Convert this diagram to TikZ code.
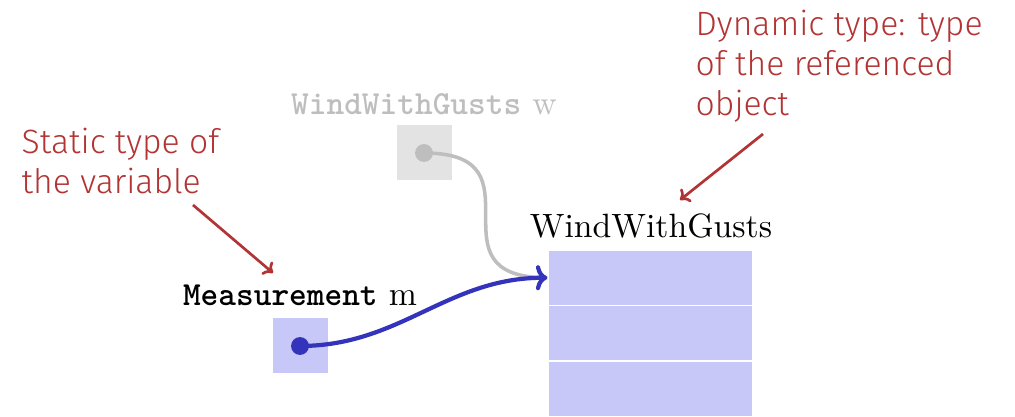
\documentclass[tikz,border=0pt]{standalone}
\usepackage{fontspec}
\newfontfamily\annotfont{Fira Sans Light}
\usetikzlibrary{arrows.meta}
\definecolor{noteRed}{RGB}{178,52,52}
\definecolor{refBlue}{RGB}{51,51,187}
\definecolor{cellFill}{RGB}{200,200,248}
\definecolor{ghostGrey}{RGB}{190,190,190}
\definecolor{ghostFill}{RGB}{227,227,227}
\begin{document}
\begin{tikzpicture}[x=0.2967pt, y=-0.2967pt,
  varbox/.style={rectangle, inner sep=0pt, minimum size=16.32pt},
  cellbox/.style={rectangle, inner sep=0pt, minimum width=60.82pt, minimum height=16.47pt,
    fill=cellFill, draw=white, line width=0.4pt},
  refdot/.style={circle, inner sep=0pt, minimum size=5.3pt},
  vlabel/.style={anchor=base, inner sep=0pt, font=\fontsize{10}{12}\selectfont},
  note/.style={inner sep=0pt, align=left, text=noteRed,
    font=\annotfont\fontsize{10}{11.87}\selectfont},
  notearrow/.style={draw=noteRed, line width=0.8pt, -{To[length=2.6pt,width=5pt]}},
]
\useasboundingbox (0,0) rectangle (1015,417);

% the object on the heap: three fields
\node[cellbox] (cellA) at (650.5,277.75) {};
\node[cellbox] (cellB) at (650.5,333.25) {};
\node[cellbox] (cellC) at (650.5,388.75) {};
\node[vlabel] (objtype) at (651,238) {WindWithGusts};

% variable w (faded)
\node[varbox, fill=ghostFill] (wbox) at (424,153) {};
\node[refdot, fill=ghostGrey] (wdot) at (wbox.center) {};
\node[vlabel, text=ghostGrey] (wlabel) at (424,115) {\texttt{\bfseries WindWithGusts} w};

% variable m
\node[varbox, fill=cellFill] (mbox) at (300,346) {};
\node[refdot, fill=refBlue] (mdot) at (mbox.center) {};
\node[vlabel] (mlabel) at (300,306) {\texttt{\bfseries Measurement} m};

% references
\draw[ghostGrey, line width=1.05pt] (wdot.center) to[out=0, in=180, looseness=1.8] (cellA.west);
\draw[refBlue, line width=1.25pt, -{To[length=3.4pt,width=7.4pt]}] (mdot.center) to[out=0, in=180] (cellA.west);

% annotations
\node[note, anchor=north west] (staticnote) at (21,127) {Static type of\\the variable};
\node[note, anchor=north west] (dynnote) at (695,9) {Dynamic type: type\\of the referenced\\object};
\coordinate (staticfrom) at (193,205);
\coordinate (staticto) at (273,273);
\coordinate (dynfrom) at (763,134);
\coordinate (dynto) at (680,200);
\draw[notearrow] (staticfrom) -- (staticto);
\draw[notearrow] (dynfrom) -- (dynto);
\end{tikzpicture}
\end{document}
